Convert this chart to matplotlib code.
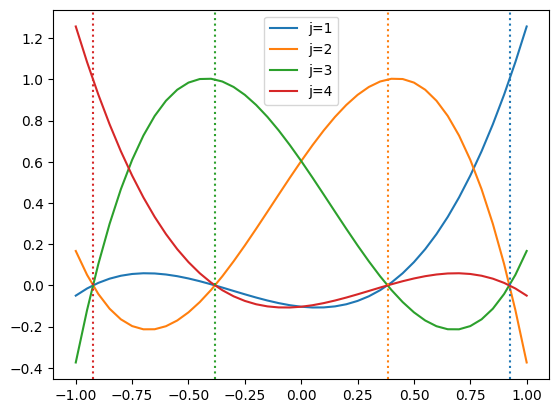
import numpy as np
from matplotlib import pyplot as plt

# sample positions along the x axis
x = np.linspace(-1.0, 1.0, 41)

# curve values (j=1 and j=2); j=4 / j=3 are their mirror images
l1 = [-0.0497, -0.0151, 0.0121, 0.0326, 0.0468, 0.0554, 0.0589, 0.0579, 0.0529, 0.0447,
      0.0336, 0.0203, 0.0054, -0.0105, -0.0270, -0.0433, -0.0590, -0.0734, -0.0860, -0.0963,
      -0.1036, -0.1073, -0.1069, -0.1019, -0.0916, -0.0754, -0.0529, -0.0233, 0.0137, 0.0589,
      0.1129, 0.1760, 0.2491, 0.3325, 0.4270, 0.5330, 0.6512, 0.7821, 0.9263, 1.0843, 1.2568]
l2 = [0.1670, 0.0513, -0.0416, -0.1132, -0.1647, -0.1975, -0.2132, -0.2129, -0.1982, -0.1704,
      -0.1308, -0.0810, -0.0222, 0.0441, 0.1167, 0.1939, 0.2746, 0.3573, 0.4406, 0.5232,
      0.6036, 0.6804, 0.7524, 0.8180, 0.8759, 0.9248, 0.9632, 0.9897, 1.0030, 1.0017,
      0.9844, 0.9497, 0.8962, 0.8225, 0.7273, 0.6092, 0.4667, 0.2985, 0.1032, -0.1205, -0.3742]
l3 = l2[::-1]
l4 = l1[::-1]

# node positions (dotted vertical lines)
nodes = [0.9239, 0.3827, -0.3827, -0.9239]
labels = ['j=1', 'j=2', 'j=3', 'j=4']
curves = [l1, l2, l3, l4]

fig, ax = plt.subplots(figsize=(6.4, 4.8), dpi=100)
colors = plt.rcParams['axes.prop_cycle'].by_key()['color']
for i, (y, lab) in enumerate(zip(curves, labels)):
    ax.plot(x, y, color=colors[i], label=lab)
for i, xn in enumerate(nodes):
    ax.axvline(xn, color=colors[i], linestyle=':')
ax.legend(loc='upper center')
plt.savefig('out.png', bbox_inches='tight')
